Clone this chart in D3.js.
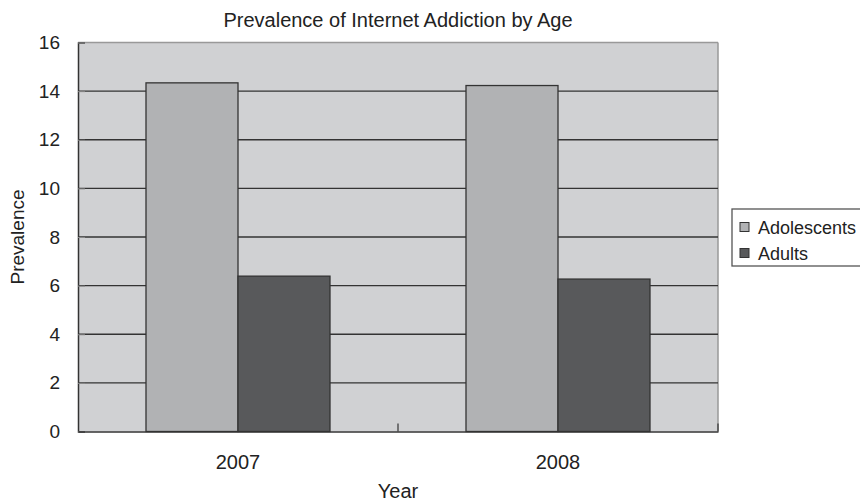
<!DOCTYPE html>
<html><head><meta charset="utf-8">
<script src="https://cdn.jsdelivr.net/npm/d3@7"></script>
<style>body{margin:0;background:#fff}svg{display:block;font-family:"Liberation Sans",Arial,sans-serif}</style>
</head><body><svg id="c" width="860" height="503"></svg>
<script>
const categories = ["2007", "2008"];
const seriesNames = ["Adolescents", "Adults"];
const adolescents = [14.34, 14.23];
const adults = [6.39, 6.27];
const yTicks = [0, 2, 4, 6, 8, 10, 12, 14, 16];
const colors = ["#b1b2b4", "#58595b"];

const svg = d3.select("#c");
const L = 78, R = 718, T = 42.5, B = 431.5;
const x = d3.scaleBand().domain(categories).range([L, R]);
const x1 = d3.scaleBand().domain(seriesNames).range([0, 184]);
const y = d3.scaleLinear().domain([0, 16]).range([B, T]);
const values = [adolescents, adults];
const FF = "Liberation Sans, Arial, sans-serif";

svg.append("rect").attr("x", L).attr("y", T).attr("width", R - L).attr("height", B - T).attr("fill", "#d0d1d3");
svg.append("line").attr("x1", L).attr("x2", R).attr("y1", T).attr("y2", T).attr("stroke", "#999").attr("stroke-width", 1.5);
svg.append("line").attr("x1", R).attr("x2", R).attr("y1", T).attr("y2", B).attr("stroke", "#999").attr("stroke-width", 1.5);
svg.append("g").selectAll("line").data(yTicks.filter(d => d > 0 && d < 16)).join("line")
  .attr("x1", L).attr("x2", R).attr("y1", d => y(d)).attr("y2", d => y(d))
  .attr("stroke", "#333").attr("stroke-width", 1.3);
categories.forEach((c, i) => {
  seriesNames.forEach((s, j) => {
    const x0 = x(c) + (x.bandwidth() - 184) / 2 + x1(s);
    svg.append("rect").attr("x", x0).attr("y", y(values[j][i]))
      .attr("width", x1.bandwidth()).attr("height", B - y(values[j][i]))
      .attr("fill", colors[j]).attr("stroke", "#333").attr("stroke-width", 1.3);
  });
});
const yAxis = svg.append("g").attr("transform", `translate(${L},0)`)
  .call(d3.axisLeft(y).tickValues(yTicks).tickSize(-7).tickPadding(18));
yAxis.select(".domain").attr("stroke", "#333").attr("stroke-width", 1.5);
yAxis.selectAll(".tick line").attr("stroke", "#888");
yAxis.selectAll("text").attr("font-size", 19).attr("fill", "#222").attr("font-family", FF);
const xAxis = svg.append("g").attr("transform", `translate(0,${B})`)
  .call(d3.axisBottom(x).tickSize(0).tickPadding(23));
xAxis.select(".domain").attr("stroke", "#333").attr("stroke-width", 1.5);
xAxis.selectAll("text").attr("font-size", 20).attr("fill", "#222").attr("font-family", FF);
svg.append("g").selectAll("line").data(x.domain().slice(1).map(d => x(d)).concat([R])).join("line")
  .attr("x1", d => d).attr("x2", d => d).attr("y1", B).attr("y2", B - 8)
  .attr("stroke", "#333").attr("stroke-width", 1.2);
svg.append("text").attr("x", (L + R) / 2).attr("y", 27).attr("text-anchor", "middle")
  .attr("font-size", 20).attr("fill", "#222").text("Prevalence of Internet Addiction by Age");
svg.append("text").attr("x", (L + R) / 2).attr("y", 498).attr("text-anchor", "middle")
  .attr("font-size", 20).attr("fill", "#222").text("Year");
svg.append("text").attr("transform", `translate(24,${(T + B) / 2}) rotate(-90)`).attr("text-anchor", "middle")
  .attr("font-size", 19).attr("fill", "#222").text("Prevalence");
const lg = svg.append("g").attr("transform", "translate(732,209)");
lg.append("rect").attr("x", 0).attr("y", 0).attr("width", 140).attr("height", 57)
  .attr("fill", "#fff").attr("stroke", "#555").attr("stroke-width", 1.3);
seriesNames.forEach((s, j) => {
  const cy = 18 + j * 26;
  lg.append("rect").attr("x", 8).attr("y", cy - 4.5).attr("width", 9).attr("height", 9)
    .attr("fill", colors[j]).attr("stroke", "#333").attr("stroke-width", 1);
  lg.append("text").attr("x", 26).attr("y", cy + 6.5).attr("font-size", 18).attr("fill", "#222").text(s);
});
</script></body></html>
